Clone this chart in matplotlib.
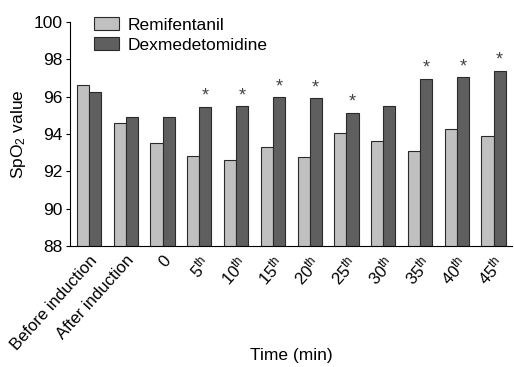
import numpy as np
import matplotlib.pyplot as plt

plt.rcParams.update({'font.family': 'Liberation Sans', 'font.size': 12,
                     'mathtext.fontset': 'custom', 'mathtext.rm': 'Liberation Sans',
                     'mathtext.it': 'Liberation Sans:italic'})

labels = ["Before induction", "After induction", "0", r"5$^{\rm th}$", r"10$^{\rm th}$",
          r"15$^{\rm th}$", r"20$^{\rm th}$", r"25$^{\rm th}$", r"30$^{\rm th}$",
          r"35$^{\rm th}$", r"40$^{\rm th}$", r"45$^{\rm th}$"]
remifentanil = [96.65, 94.57, 93.5, 92.8, 92.6, 93.3, 92.75, 94.05, 93.6, 93.1, 94.27, 93.9]
dexmedetomidine = [96.23, 94.93, 94.93, 95.46, 95.48, 95.96, 95.91, 95.14, 95.5, 96.96, 97.05, 97.39]
significant = [False, False, False, True, True, True, True, True, False, True, True, True]

x = np.arange(len(labels))
w = 0.33

fig = plt.figure(figsize=(5.14, 3.67), dpi=100)
ax = fig.add_axes([0.136, 0.330, 0.860, 0.610])

ax.bar(x - w / 2, remifentanil, w, color='#c0c0c0', edgecolor='#2a2a2a',
       linewidth=0.8, label='Remifentanil')
ax.bar(x + w / 2, dexmedetomidine, w, color='#5f5f5f', edgecolor='#2a2a2a',
       linewidth=0.8, label='Dexmedetomidine')

# significance marks
for i, s in enumerate(significant):
    if s:
        ax.text(x[i] + w / 2, dexmedetomidine[i] + 0.1, '*', ha='center', va='bottom',
                fontsize=13, color='#444444')

ax.set_ylim(88, 100)
ax.set_yticks(np.arange(88, 101, 2))
ax.set_xlim(-0.52, 11.5)
ax.set_xticks(x)
ax.set_xticklabels(labels, rotation=48, ha='right', rotation_mode='anchor', fontsize=12)
ax.tick_params(axis='x', length=0, pad=5)
ax.tick_params(axis='y', length=3, labelsize=12.5, pad=2)
ax.spines['top'].set_visible(False)
ax.spines['right'].set_visible(False)
ax.set_ylabel("SpO$_2$ value", fontsize=12.5, labelpad=4)
ax.set_xlabel("Time (min)", fontsize=12.5, va='center')
ax.xaxis.set_label_coords(0.5, -0.49)

ax.legend(loc='upper left', bbox_to_anchor=(0.02, 1.09), frameon=False, fontsize=12.5,
          handlelength=1.4, handleheight=0.75, labelspacing=0.25, handletextpad=0.5)

fig.savefig("out.png", dpi=100)
